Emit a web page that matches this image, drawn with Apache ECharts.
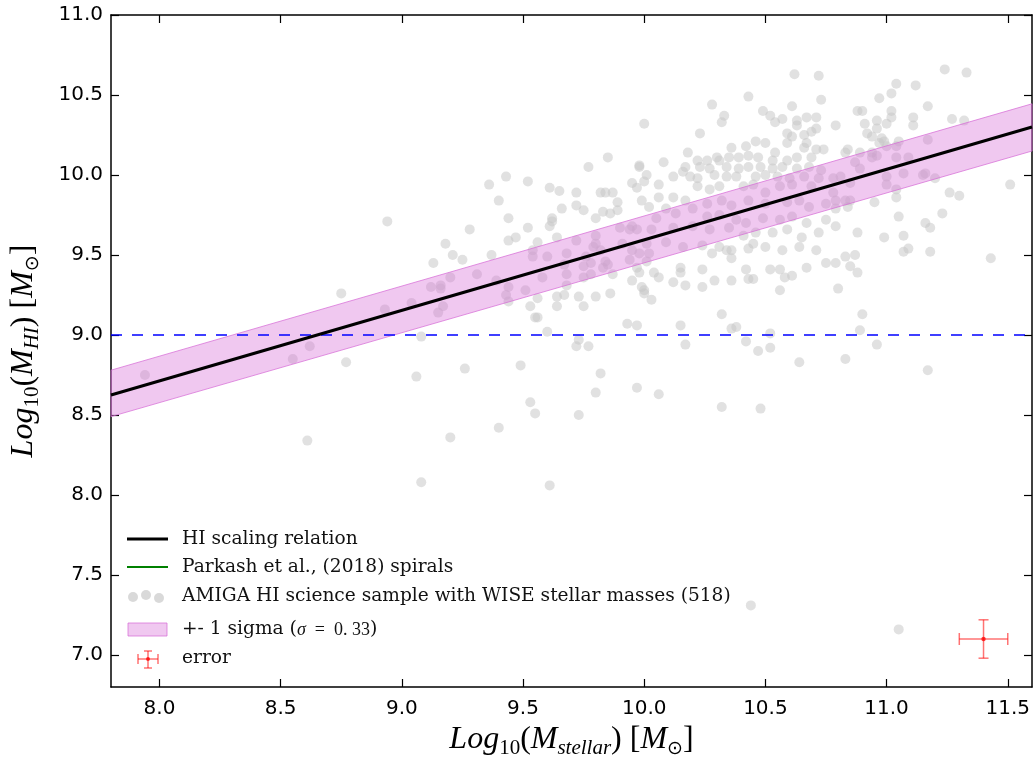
<!DOCTYPE html>
<html><head><meta charset="utf-8">
<script src="https://cdn.jsdelivr.net/npm/echarts@6/dist/echarts.min.js"></script>
<style>html,body{margin:0;padding:0;background:#fff}#c{width:1034px;height:764px}</style>
</head><body><div id="c"></div>
<script>
const xTicks = [8.0, 8.5, 9.0, 9.5, 10.0, 10.5, 11.0, 11.5];
const yTicks = [7.0, 7.5, 8.0, 8.5, 9.0, 9.5, 10.0, 10.5, 11.0];
const xRange = [7.8, 11.6];
const yRange = [6.8, 11.0];
const relationX = [7.8, 11.6];
const relationY = [8.625, 10.30];
const bandUpper = [8.78, 10.445];
const bandLower = [8.49, 10.15];
const thresholdHI = 9.0;
const errorPoint = [11.4, 7.1];
const errorX = 0.1;
const errorY = 0.12;
const amigaPoints = [
[7.94,8.75],[8.61,8.34],[8.55,8.85],[8.62,8.93],[8.75,9.26],[8.77,8.83],[8.94,9.71],[8.93,9.16],[9.04,9.20],[9.06,8.74],
[9.08,8.08],[9.20,8.36],[9.08,8.99],
[9.36,9.94],[9.43,9.99],[9.52,9.96],[9.40,9.84],[9.44,9.73],[9.52,9.67],[9.28,9.66],[9.18,9.57],[9.44,9.59],[9.47,9.61],
[9.21,9.50],[9.13,9.45],[9.25,9.47],[9.37,9.50],[9.31,9.38],[9.20,9.36],[9.12,9.30],[9.16,9.31],[9.16,9.29],[9.17,9.18],
[9.15,9.14],[9.39,9.34],[9.44,9.30],[9.43,9.25],[9.44,9.21],[9.51,9.28],[9.54,9.53],[9.56,9.58],[9.54,9.49],[9.60,9.49],
[9.58,9.36],[9.56,9.23],[9.53,9.18],[9.55,9.11],[9.56,9.11],[9.60,9.02],[9.61,9.92],[9.65,9.90],[9.66,9.79],[9.62,9.73],
[9.62,9.71],[9.61,9.68],[9.64,9.61],[9.68,9.51],[9.67,9.44],[9.68,9.38],[9.68,9.31],[9.64,9.24],[9.67,9.25],[9.64,9.18],
[9.72,9.89],[9.72,9.81],[9.75,9.78],[9.77,10.05],[9.85,10.11],[9.80,9.73],[9.82,9.89],[9.84,9.89],[9.87,9.89],[9.89,9.83],
[9.83,9.77],[9.86,9.76],[9.89,9.78],[9.72,9.59],[9.80,9.62],[9.80,9.57],[9.79,9.55],[9.82,9.53],[9.76,9.49],[9.78,9.45],
[9.84,9.46],[9.75,9.43],[9.75,9.36],[9.83,9.42],[9.85,9.44],[9.87,9.38],[9.78,9.38],[9.73,9.24],[9.80,9.24],[9.75,9.18],
[9.86,9.26],[9.90,9.67],[9.94,9.66],[9.95,9.68],[9.97,9.66],[9.91,9.57],[9.95,9.53],[9.94,9.47],[9.98,9.51],[9.97,9.42],
[10.01,9.46],[9.95,9.34],[9.99,9.30],[9.95,9.95],[9.97,9.92],[9.98,10.05],[10.01,10.00],[9.99,9.84],[9.93,9.07],[9.97,9.06],
[9.73,8.97],[9.72,8.93],[9.77,8.93],[9.98,10.06],
[10.17,8.94],[9.26,8.79],[9.49,8.81],[9.82,8.76],[9.80,8.64],[9.97,8.67],[10.06,8.63],[9.53,8.58],[9.55,8.51],[9.73,8.50],
[9.40,8.42],[9.61,8.06],
[10.62,10.63],[10.72,10.62],[10.43,10.49],[10.73,10.47],[10.28,10.44],[10.61,10.43],[10.49,10.40],[10.00,10.32],[10.33,10.37],
[10.32,10.33],[10.52,10.37],[10.54,10.33],[10.57,10.35],[10.63,10.34],[10.63,10.31],[10.67,10.36],[10.71,10.36],[10.71,10.29],
[10.23,10.26],[10.59,10.26],[10.61,10.24],[10.66,10.25],[10.69,10.27],[10.59,10.20],[10.46,10.21],[10.50,10.20],
[10.42,10.18],[10.36,10.17],[10.67,10.20],[10.66,10.17],[10.71,10.16],[10.74,10.16],[10.18,10.14],[10.30,10.11],[10.35,10.11],
[10.39,10.11],[10.43,10.12],[10.47,10.11],[10.54,10.14],[10.53,10.09],[10.59,10.09],[10.63,10.11],[10.69,10.11],[10.08,10.08],
[10.22,10.09],[10.26,10.09],[10.31,10.09],[10.17,10.05],[10.23,10.05],[10.27,10.04],[10.34,10.05],[10.39,10.04],[10.43,10.05],
[10.48,10.05],[10.53,10.04],[10.57,10.05],[10.63,10.04],[10.68,10.05],[10.73,10.03],[10.00,9.96],[10.06,9.94],
[10.12,9.99],[10.16,10.02],[10.19,9.99],[10.22,9.98],[10.29,10.00],[10.34,9.99],[10.38,9.99],[10.46,9.99],[10.50,10.00],
[10.55,9.99],[10.60,9.98],[10.66,9.99],[10.72,9.98],[10.22,9.93],[10.27,9.91],[10.31,9.93],[10.41,9.93],[10.45,9.94],
[10.50,9.89],[10.56,9.93],[10.61,9.94],[10.69,9.93],[10.06,9.86],[10.12,9.86],[10.17,9.84],[10.02,9.80],
[10.09,9.79],[10.20,9.79],[10.26,9.82],[10.32,9.84],[10.36,9.81],[10.43,9.84],[10.50,9.82],[10.59,9.83],[10.64,9.84],
[10.68,9.80],[10.75,9.82],[10.05,9.73],[10.13,9.76],[10.26,9.74],[10.31,9.75],[10.38,9.72],[10.42,9.70],[10.49,9.73],
[10.56,9.72],[10.61,9.74],[10.67,9.70],[10.75,9.72],[10.03,9.66],[10.12,9.67],[10.20,9.68],[10.27,9.66],[10.35,9.67],
[10.41,9.62],[10.46,9.64],[10.53,9.64],[10.59,9.66],[10.65,9.61],[10.72,9.64],[10.01,9.57],[10.09,9.58],[10.16,9.55],
[10.24,9.56],[10.31,9.55],[10.36,9.53],[10.43,9.54],[10.50,9.55],[10.57,9.53],[10.64,9.55],[10.71,9.53],
[10.02,9.51],[10.28,9.51],[10.34,9.53],[10.36,9.48],[10.45,9.57],[9.98,9.39],[10.04,9.39],[10.06,9.36],[10.12,9.33],
[10.15,9.42],[10.15,9.39],[10.17,9.31],[10.24,9.41],[10.24,9.30],[10.29,9.34],[10.36,9.34],[10.42,9.41],[10.43,9.35],
[10.45,9.35],[10.52,9.41],[10.56,9.41],[10.58,9.36],[10.61,9.37],[10.56,9.28],[10.67,9.42],[10.75,9.45],[10.79,9.45],
[10.80,9.29],[10.00,9.28],[10.00,9.26],[10.03,9.22],[10.32,9.13],[10.15,9.06],[10.36,9.04],[10.38,9.05],[10.52,9.01],
[10.42,8.96],[10.47,8.90],[10.52,8.92],[10.64,8.83],[10.32,8.55],[10.48,8.54],
[11.24,10.66],[11.33,10.64],[11.04,10.57],[11.12,10.56],[11.02,10.51],[10.97,10.48],[11.17,10.43],[10.88,10.40],[10.90,10.40],
[11.02,10.40],[11.02,10.36],[11.11,10.36],[11.27,10.35],[11.32,10.34],[10.79,10.31],[10.91,10.32],[10.96,10.34],[11.00,10.32],
[11.11,10.31],[10.96,10.29],[10.92,10.26],[10.94,10.24],[10.98,10.23],[10.99,10.21],[11.05,10.21],[11.17,10.22],[10.97,10.20],
[11.00,10.18],[11.04,10.18],[10.83,10.14],[10.84,10.16],[10.89,10.14],[10.94,10.14],[10.96,10.12],[10.94,10.11],[11.04,10.11],
[11.09,10.11],[10.87,10.08],[10.89,10.04],[11.00,9.99],[11.07,10.01],[11.15,10.00],[11.16,10.01],[11.20,9.98],[10.81,9.99],
[10.78,9.98],[10.85,9.95],[11.00,9.94],[10.78,9.89],[10.79,9.84],[10.83,9.84],[10.85,9.84],[11.04,9.91],[11.04,9.86],
[10.95,9.83],[10.79,9.79],[10.84,9.80],[11.26,9.89],[11.30,9.87],[11.51,9.94],[11.23,9.76],[11.05,9.74],[10.79,9.68],
[10.88,9.64],[10.99,9.61],[11.07,9.62],[11.16,9.70],[11.18,9.67],[11.07,9.52],[11.09,9.54],[11.18,9.52],[11.43,9.48],
[10.83,9.49],[10.87,9.50],[10.85,9.43],[10.88,9.39],[10.90,9.13],[10.89,9.03],[10.96,8.94],[10.83,8.85],
[11.17,8.78],[10.44,7.31],[11.05,7.16]
];

const pointColor = 'rgba(198,198,198,0.66)';
const bandFill = 'rgba(215,110,215,0.38)';
const bandEdge = 'rgba(215,110,215,0.75)';
const errColor = 'rgba(255,0,0,0.55)';

const chart = echarts.init(document.getElementById('c'), null, {renderer: 'canvas'});

const mathRich = {
  i: {fontFamily: 'Liberation Serif', fontStyle: 'italic', fontSize: 32, color: '#000', lineHeight: 38},
  n: {fontFamily: 'Liberation Serif', fontSize: 32, color: '#000', lineHeight: 38},
  s: {fontFamily: 'Liberation Serif', fontSize: 21, color: '#000', lineHeight: 22, verticalAlign: 'bottom'},
  si: {fontFamily: 'Liberation Serif', fontStyle: 'italic', fontSize: 21, color: '#000', lineHeight: 22, verticalAlign: 'bottom'},
  o: {fontFamily: 'DejaVu Sans', fontSize: 19, color: '#000', lineHeight: 22, verticalAlign: 'bottom'}
};

function baseX(pos, show) {
  return {
    type: 'value', min: xRange[0], max: xRange[1], position: pos,
    axisLine: {show: true, onZero: false, lineStyle: {color: '#000', width: 1.5}},
    axisTick: {show: true, inside: true, length: 8, customValues: xTicks, lineStyle: {color: '#000', width: 1.2}},
    axisLabel: {show: show, customValues: xTicks, formatter: v => Number(v).toFixed(1),
      fontFamily: 'DejaVu Sans', fontSize: 20, color: '#000', margin: 12},
    splitLine: {show: false}
  };
}
function baseY(pos, show) {
  return {
    type: 'value', min: yRange[0], max: yRange[1], position: pos,
    axisLine: {show: true, onZero: false, lineStyle: {color: '#000', width: 1.5}},
    axisTick: {show: true, inside: true, length: 8, customValues: yTicks, lineStyle: {color: '#000', width: 1.2}},
    axisLabel: {show: show, customValues: yTicks, formatter: v => Number(v).toFixed(1),
      fontFamily: 'DejaVu Sans', fontSize: 20, color: '#000', margin: 8},
    splitLine: {show: false}
  };
}

const xMain = Object.assign(baseX('bottom', true), {
  name: '{i|Log}{s|10}{n|(}{i|M}{si|stellar}{n|) [}{i|M}{o|⊙}{n|]}',
  nameLocation: 'middle', nameGap: 33, nameTextStyle: {rich: mathRich}
});
const yMain = Object.assign(baseY('left', true), {
  name: '{i|Log}{s|10}{n|(}{i|M}{si|HI}{n|) [}{i|M}{o|⊙}{n|]}',
  nameLocation: 'middle', nameGap: 68, nameRotate: 90, nameTextStyle: {rich: mathRich}
});

const legendFont = {fontFamily: 'DejaVu Serif', fontSize: 18.6, fill: '#111', verticalAlign: 'middle'};

chart.setOption({
  animation: false,
  backgroundColor: '#fff',
  grid: {left: 111, right: 2, top: 15, bottom: 77},
  xAxis: [xMain, baseX('top', false)],
  yAxis: [yMain, baseY('right', false)],
  series: [
    {
      type: 'scatter', name: 'AMIGA', data: amigaPoints, symbolSize: 10,
      itemStyle: {color: pointColor}, z: 2, silent: true
    },
    {
      type: 'custom', name: 'band', z: 3, silent: true,
      data: [[relationX[0], bandLower[0]]],
      renderItem: function (params, api) {
        const pts = [];
        for (let i = 0; i < relationX.length; i++) pts.push(api.coord([relationX[i], bandUpper[i]]));
        for (let i = relationX.length - 1; i >= 0; i--) pts.push(api.coord([relationX[i], bandLower[i]]));
        return {type: 'polygon', shape: {points: pts}, style: {fill: bandFill, stroke: bandEdge, lineWidth: 1}};
      }
    },
    {
      type: 'line', name: 'threshold', z: 4, silent: true, symbol: 'none',
      data: [[xRange[0], thresholdHI], [xRange[1], thresholdHI]],
      lineStyle: {color: '#0000ff', width: 1.6, type: [11, 10]}
    },
    {
      type: 'line', name: 'HI scaling relation', z: 5, silent: true, symbol: 'none',
      data: relationX.map((x, i) => [x, relationY[i]]),
      lineStyle: {color: '#000', width: 3}
    },
    {
      type: 'custom', name: 'error', z: 6, silent: true,
      data: [[errorPoint[0], errorPoint[1], errorX, errorY]],
      renderItem: function (params, api) {
        const x = api.value(0), y = api.value(1), ex = api.value(2), ey = api.value(3);
        const c = api.coord([x, y]);
        const l = api.coord([x - ex, y]), r = api.coord([x + ex, y]);
        const t = api.coord([x, y + ey]), b = api.coord([x, y - ey]);
        const st = {stroke: errColor, lineWidth: 1.5};
        return {type: 'group', children: [
          {type: 'line', shape: {x1: l[0], y1: l[1], x2: r[0], y2: r[1]}, style: st},
          {type: 'line', shape: {x1: t[0], y1: t[1], x2: b[0], y2: b[1]}, style: st},
          {type: 'line', shape: {x1: l[0], y1: l[1] - 6, x2: l[0], y2: l[1] + 6}, style: st},
          {type: 'line', shape: {x1: r[0], y1: r[1] - 6, x2: r[0], y2: r[1] + 6}, style: st},
          {type: 'line', shape: {x1: t[0] - 5, y1: t[1], x2: t[0] + 5, y2: t[1]}, style: st},
          {type: 'line', shape: {x1: b[0] - 5, y1: b[1], x2: b[0] + 5, y2: b[1]}, style: st},
          {type: 'circle', shape: {cx: c[0], cy: c[1], r: 2.2}, style: {fill: 'rgba(255,0,0,0.75)'}}
        ]};
      }
    }
  ],
  graphic: [
    {type: 'line', shape: {x1: 127, y1: 539, x2: 168, y2: 539}, style: {stroke: '#000', lineWidth: 3}},
    {type: 'text', x: 182, y: 539, style: Object.assign({text: 'HI scaling relation'}, legendFont)},
    {type: 'line', shape: {x1: 127, y1: 567, x2: 168, y2: 567}, style: {stroke: '#008000', lineWidth: 2}},
    {type: 'text', x: 182, y: 567, style: Object.assign({text: 'Parkash et al., (2018) spirals'}, legendFont)},
    {type: 'circle', shape: {cx: 133, cy: 597, r: 5}, style: {fill: pointColor}},
    {type: 'circle', shape: {cx: 146, cy: 595, r: 5}, style: {fill: pointColor}},
    {type: 'circle', shape: {cx: 159, cy: 598, r: 5}, style: {fill: pointColor}},
    {type: 'text', x: 182, y: 596, style: Object.assign({text: 'AMIGA HI science sample with WISE stellar masses (518)'}, legendFont)},
    {type: 'rect', shape: {x: 128, y: 623, width: 39, height: 13}, style: {fill: bandFill, stroke: bandEdge, lineWidth: 1}},
    {type: 'text', x: 182, y: 628, style: {
      text: '{t|+- 1 sigma }{p|(}{g|σ}{m|  =  0. 33}{p|)}', fill: '#111', verticalAlign: 'middle',
      rich: {
        t: {fontFamily: 'DejaVu Serif', fontSize: 18.6, fill: '#111', lineHeight: 22, verticalAlign: 'bottom'},
        p: {fontFamily: 'DejaVu Serif', fontSize: 19, fill: '#111', lineHeight: 22, verticalAlign: 'bottom'},
        g: {fontFamily: 'Liberation Serif', fontStyle: 'italic', fontSize: 18, fill: '#111', lineHeight: 20, verticalAlign: 'bottom'},
        m: {fontFamily: 'Liberation Serif', fontSize: 18, fill: '#111', lineHeight: 20, verticalAlign: 'bottom'}
      }
    }},
    {type: 'line', shape: {x1: 138, y1: 659, x2: 158, y2: 659}, style: {stroke: errColor, lineWidth: 1.5}},
    {type: 'line', shape: {x1: 148, y1: 651, x2: 148, y2: 668}, style: {stroke: errColor, lineWidth: 1.5}},
    {type: 'line', shape: {x1: 138, y1: 654, x2: 138, y2: 664}, style: {stroke: errColor, lineWidth: 1.5}},
    {type: 'line', shape: {x1: 158, y1: 654, x2: 158, y2: 664}, style: {stroke: errColor, lineWidth: 1.5}},
    {type: 'line', shape: {x1: 144, y1: 651, x2: 152, y2: 651}, style: {stroke: errColor, lineWidth: 1.5}},
    {type: 'line', shape: {x1: 144, y1: 668, x2: 152, y2: 668}, style: {stroke: errColor, lineWidth: 1.5}},
    {type: 'circle', shape: {cx: 148, cy: 659, r: 2}, style: {fill: 'rgba(255,0,0,0.75)'}},
    {type: 'text', x: 182, y: 658, style: Object.assign({text: 'error'}, legendFont)}
  ]
});
</script></body></html>
